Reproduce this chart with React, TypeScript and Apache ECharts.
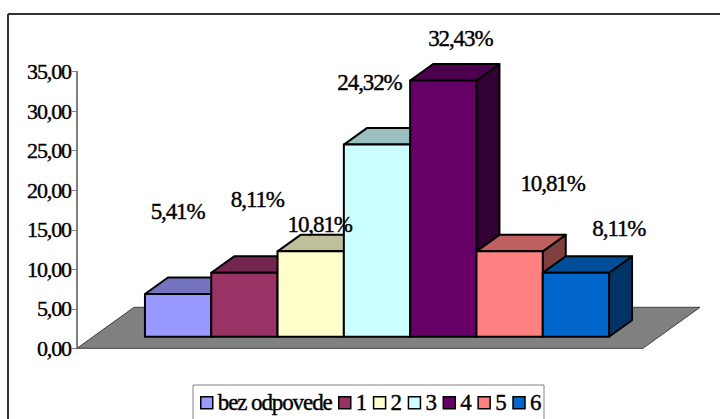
import React, { useEffect, useRef } from "react";
import * as echarts from "echarts";

const categories = ["bez odpovede", "1", "2", "3", "4", "5", "6"];
const values = [5.41, 8.11, 10.81, 24.32, 32.43, 10.81, 8.11];
const frontColors = ["#9999FF", "#993366", "#FFFFCC", "#CCFFFF", "#660066", "#FF8080", "#0066CC"];
const topColors = ["#7373BF", "#732650", "#BFBF99", "#99BFBF", "#4D004D", "#BF6060", "#004D99"];
const sideColors = ["#4D4D80", "#4D1A33", "#808066", "#668080", "#330033", "#804040", "#003366"];
const labelShiftX = [-0.5, 13, 9, -7.5, 17, 43, 43];
const labelShiftY = [-83, -74, -27, -63, -43, -68, -45];

const FONT = "'Liberation Serif', 'Times New Roman', serif";
const BAR_W = 66.3;
const DEPTH_X = 23;
const DEPTH_Y = 16.5;
const FRONT_X = 17;
const FRONT_Y = 11.5;
const FLOOR_X = 57;
const FLOOR_Y = 41;

const pct = (v: number) => v.toFixed(2).replace(".", ",") + "%";

function barItem(i: number) {
  return (_p: any, api: any) => {
    const top = api.coord([api.value(0), api.value(1)]);
    const base = api.coord([api.value(0), 0]);
    const x0 = top[0] + FRONT_X + (i - 3.5) * BAR_W;
    const x1 = x0 + BAR_W;
    const yTop = top[1] - FRONT_Y;
    const yB = base[1] - FRONT_Y;
    const line = { stroke: "#000", lineWidth: 2, lineJoin: "round" };
    return {
      type: "group",
      children: [
        {
          type: "polygon",
          shape: { points: [[x1, yTop], [x1 + DEPTH_X, yTop - DEPTH_Y], [x1 + DEPTH_X, yB - DEPTH_Y], [x1, yB]] },
          style: { fill: sideColors[i], ...line },
        },
        {
          type: "polygon",
          shape: { points: [[x0, yTop], [x0 + DEPTH_X, yTop - DEPTH_Y], [x1 + DEPTH_X, yTop - DEPTH_Y], [x1, yTop]] },
          style: { fill: topColors[i], ...line },
        },
        {
          type: "rect",
          shape: { x: x0, y: yTop, width: BAR_W, height: yB - yTop },
          style: { fill: frontColors[i], ...line },
        },
      ],
    };
  };
}

export default function App() {
  const ref = useRef<HTMLDivElement>(null);
  useEffect(() => {
    document.body.style.margin = "0";
    const chart = echarts.init(ref.current!, null, { renderer: "svg" });
    const barSeries = categories.map((name, i) => ({
      type: "custom",
      name,
      coordinateSystem: "cartesian2d",
      itemStyle: { color: frontColors[i] },
      renderItem: barItem(i),
      data: [[0, values[i]]],
      encode: { x: 0, y: 1 },
      silent: true,
      z: 3,
    }));
    const legendBase = {
      top: 391,
      orient: "horizontal",
      padding: 0,
      itemWidth: 12,
      itemHeight: 12,
      itemGap: 5.4,
      icon: "rect",
      itemStyle: { borderColor: "#000", borderWidth: 1.5 },
      textStyle: { fontFamily: FONT, fontSize: 23, color: "#000", textBorderColor: "#000", textBorderWidth: 0.4 },
      selectedMode: false,
    };
    chart.setOption({
      animation: false,
      backgroundColor: "#fff",
      grid: { left: 77, top: 71.7, width: 566, height: 276.6, containLabel: false },
      xAxis: { type: "category", data: [""], show: false },
      yAxis: {
        type: "value",
        min: 0,
        max: 35,
        interval: 5,
        splitLine: { show: false },
        axisLine: { show: true, lineStyle: { color: "#808080", width: 2 } },
        axisTick: { show: true, length: 5, lineStyle: { color: "#808080", width: 1 } },
        axisLabel: {
          margin: 6,
          fontFamily: FONT,
          fontSize: 22,
          color: "#000",
          textBorderColor: "#000",
          textBorderWidth: 0.4,
          formatter: (v: number) => v.toFixed(2).replace(".", ","),
        },
      },
      legend: [
        { ...legendBase, left: 200, data: categories.slice(0, 1) },
        { ...legendBase, left: 338, data: categories.slice(1) },
      ],
      graphic: [
        { type: "line", shape: { x1: 8, y1: 14, x2: 720, y2: 14 }, style: { stroke: "#333", lineWidth: 2 } },
        { type: "line", shape: { x1: 8, y1: 14, x2: 8, y2: 419 }, style: { stroke: "#333", lineWidth: 2 } },
        {
          type: "rect",
          shape: { x: 193, y: 385, width: 351, height: 50 },
          style: { fill: "#fff", stroke: "#808080", lineWidth: 1 },
        },
      ],
      series: [
        {
          type: "custom",
          name: "floor",
          coordinateSystem: "cartesian2d",
          silent: true,
          z: 1,
          data: [[0, 0]],
          encode: { x: 0, y: 1 },
          renderItem: (_p: any, api: any) => {
            const c = api.coord([0, 0]);
            const half = api.size([1, 0])[0] / 2;
            const l = c[0] - half;
            const r = c[0] + half;
            return {
              type: "polygon",
              shape: { points: [[l, c[1]], [r, c[1]], [r + FLOOR_X, c[1] - FLOOR_Y], [l + FLOOR_X, c[1] - FLOOR_Y]] },
              style: { fill: "#808080", stroke: "#404040", lineWidth: 1 },
            };
          },
        },
        ...barSeries,
        {
          type: "custom",
          name: "labels",
          coordinateSystem: "cartesian2d",
          silent: true,
          z: 5,
          data: values.map((v) => [0, v]),
          encode: { x: 0, y: 1 },
          renderItem: (p: any, api: any) => {
            const i = p.dataIndex;
            const top = api.coord([0, api.value(1)]);
            return {
              type: "text",
              style: {
                text: pct(values[i]),
                x: top[0] + FRONT_X + (i - 3) * BAR_W + labelShiftX[i],
                y: top[1] - 11 + labelShiftY[i],
                align: "center",
                verticalAlign: "middle",
                fontFamily: FONT,
                fontSize: 23,
                fill: "#000",
                stroke: "#000",
                lineWidth: 0.4,
              },
            };
          },
        },
      ],
    });
    return () => chart.dispose();
  }, []);
  return <div ref={ref} style={{ width: 720, height: 419, letterSpacing: "-1.1px" }} />;
}
